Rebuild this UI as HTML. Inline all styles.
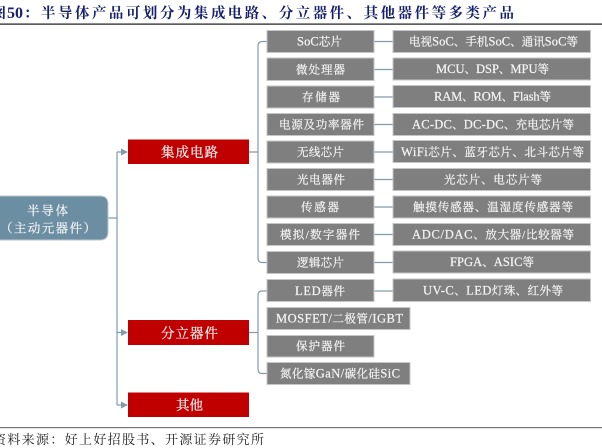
<!DOCTYPE html>
<html><head><meta charset="utf-8">
<style>
html,body{margin:0;padding:0;background:#fff;width:602px;height:448px;overflow:hidden}
svg{display:block;filter:blur(0.35px)}
text{font-family:"Liberation Serif","Noto Serif CJK SC",serif}
.w text{fill:#f4f4f4;stroke:#f4f4f4;stroke-width:.22px;font-size:11.500px}
.w tspan{font-size:12.500px}
.b{fill:#7f7f7f;stroke:#c4c6c8;stroke-width:1}
.r{fill:#c00000}
.l{fill:none;stroke:#7f9cad;stroke-width:1.2}
</style></head><body>
<svg width="602" height="448" viewBox="0 0 602 448" xmlns="http://www.w3.org/2000/svg">
<g font-weight="700" fill="#16206e">
<text x="-8" y="18" font-size="14">图</text>
<text x="7" y="18" font-size="16">50</text>
<text x="24" y="18" font-size="14">：</text>
<text x="41" y="18" font-size="14.500" textLength="473" lengthAdjust="spacing">半导体产品可划分为集成电路、分立器件、其他器件等多类产品</text>
</g>
<rect x="0" y="23.500" width="602" height="1.200" fill="#1a1a1a"/>
<rect x="0" y="427" width="602" height="1.200" fill="#777"/>
<text x="-7" y="444" font-size="13" fill="#222" textLength="271" lengthAdjust="spacing">资料来源：好上好招股书、开源证券研究所</text>

<!-- connectors -->
<path class="l" d="M108 218H117M117 152V405M117 152H124M117 332.500H124M117 405H124"/>
<path d="M121 148.500L128 152L121 155.500ZM121 329L128 332.500L121 336ZM121 401.500L128 405L121 408.500Z" fill="#7f9cad"/>
<path class="l" d="M249 152H258M258 46Q258 41.500 262 41.500H267M258 46V258Q258 262.500 262 262.500H267"/>
<path class="l" d="M249 332.500H258M258 295Q258 291 262 291H267M258 295V369Q258 373.500 262 373.500H267"/>
<path class="l" d="M374 41.500H393M374 69.500H393M374 97H393M374 124.500H393M374 152H393M374 179.500H393M374 207H393M374 234.500H393M374 262.500H393M374 291H393"/>

<!-- root -->
<path d="M-4 196H100Q108 196 108 204V232Q108 240 100 240H-4Z" fill="#6b8ea3" stroke="#bcc6cc"/>
<g class="w">
<text x="27" y="215" style="font-size:12.500px" textLength="41" lengthAdjust="spacing">半导体</text>
<text x="0" y="232.500" style="font-size:12.500px" textLength="96" lengthAdjust="spacing">（主动元器件）</text>
</g>

<!-- red -->
<rect class="r" x="128" y="139.500" width="121" height="24.500"/>
<rect class="r" x="128" y="320" width="121" height="25"/>
<rect class="r" x="128" y="392.500" width="121" height="24.500"/>
<g font-size="13.500" fill="#f7f0f0" stroke="#f7f0f0" stroke-width=".25">
<text x="161" y="157" textLength="57" lengthAdjust="spacing">集成电路</text>
<text x="161" y="338" textLength="57" lengthAdjust="spacing">分立器件</text>
<text x="176" y="410" textLength="27" lengthAdjust="spacing">其他</text>
</g>

<!-- col 2 boxes -->
<rect class="b" x="267" y="30.500" width="107" height="22"/>
<rect class="b" x="267" y="58" width="107" height="22.500"/>
<rect class="b" x="267" y="86" width="107" height="22"/>
<rect class="b" x="267" y="113.500" width="107" height="22"/>
<rect class="b" x="267" y="141" width="107" height="22"/>
<rect class="b" x="267" y="168.500" width="107" height="22"/>
<rect class="b" x="267" y="196" width="107" height="22"/>
<rect class="b" x="267" y="223.500" width="107" height="22"/>
<rect class="b" x="267" y="251.500" width="107" height="22"/>
<rect class="b" x="267" y="279.500" width="107" height="22"/>
<rect class="b" x="267" y="307.500" width="143" height="22"/>
<rect class="b" x="267" y="335.500" width="107" height="21.500"/>
<rect class="b" x="267" y="362.500" width="143" height="22"/>

<!-- col 3 boxes -->
<rect class="b" x="393" y="30.500" width="197.500" height="22"/>
<rect class="b" x="393" y="58" width="197.500" height="22"/>
<rect class="b" x="393" y="85.500" width="197.500" height="22"/>
<rect class="b" x="393" y="113.500" width="197.500" height="22"/>
<rect class="b" x="393" y="140.500" width="197.500" height="22"/>
<rect class="b" x="393" y="168.500" width="197.500" height="22"/>
<rect class="b" x="393" y="196" width="197.500" height="22"/>
<rect class="b" x="393" y="223.500" width="197.500" height="22"/>
<rect class="b" x="393" y="251" width="197.500" height="22"/>
<rect class="b" x="393" y="279" width="197.500" height="22.500"/>

<g class="w">
<text x="297" y="45.500" textLength="45" lengthAdjust="spacing"><tspan>SoC</tspan>芯片</text>
<text x="296" y="73.500" textLength="49" lengthAdjust="spacing">微处理器</text>
<text x="302" y="101" textLength="38" lengthAdjust="spacing">存储器</text>
<text x="279" y="128.500" textLength="85" lengthAdjust="spacing">电源及功率器件</text>
<text x="297" y="156" textLength="47" lengthAdjust="spacing">无线芯片</text>
<text x="297" y="183.500" textLength="48" lengthAdjust="spacing">光电器件</text>
<text x="301" y="211" textLength="38" lengthAdjust="spacing">传感器</text>
<text x="280" y="238.500" textLength="80" lengthAdjust="spacing">模拟/数字器件</text>
<text x="297" y="266.500" textLength="47" lengthAdjust="spacing">逻辑芯片</text>
<text x="295" y="295" textLength="50" lengthAdjust="spacing"><tspan>LED</tspan>器件</text>
<text x="276" y="322.500" textLength="127" lengthAdjust="spacing"><tspan>MOSFET/</tspan>二极管<tspan>/IGBT</tspan></text>
<text x="296" y="350" textLength="49" lengthAdjust="spacing">保护器件</text>
<text x="280" y="377.500" textLength="120" lengthAdjust="spacing">氮化镓<tspan>GaN/</tspan>碳化硅<tspan>SiC</tspan></text>

<text x="409" y="45.500" textLength="169" lengthAdjust="spacing">电视<tspan>SoC</tspan>、手机<tspan>SoC</tspan>、通讯<tspan>SoC</tspan>等</text>
<text x="436" y="73" textLength="113" lengthAdjust="spacing"><tspan>MCU</tspan>、<tspan>DSP</tspan>、<tspan>MPU</tspan>等</text>
<text x="434" y="100.500" textLength="117" lengthAdjust="spacing"><tspan>RAM</tspan>、<tspan>ROM</tspan>、<tspan>Flash</tspan>等</text>
<text x="412" y="128.500" textLength="162" lengthAdjust="spacing"><tspan>AC-DC</tspan>、<tspan>DC-DC</tspan>、充电芯片等</text>
<text x="401" y="156" textLength="183" lengthAdjust="spacing"><tspan>WiFi</tspan>芯片、蓝牙芯片、北斗芯片等</text>
<text x="444" y="183.500" textLength="98" lengthAdjust="spacing">光芯片、电芯片等</text>
<text x="413" y="211" textLength="160" lengthAdjust="spacing">触摸传感器、温湿度传感器等</text>
<text x="412" y="238.500" textLength="162" lengthAdjust="spacing"><tspan>ADC/DAC</tspan>、放大器/比较器等</text>
<text x="450" y="266" textLength="84" lengthAdjust="spacing"><tspan>FPGA</tspan>、<tspan>ASIC</tspan>等</text>
<text x="423" y="294.500" textLength="140" lengthAdjust="spacing"><tspan>UV-C</tspan>、<tspan>LED</tspan>灯珠、红外等</text>
</g>
</svg>
</body></html>
